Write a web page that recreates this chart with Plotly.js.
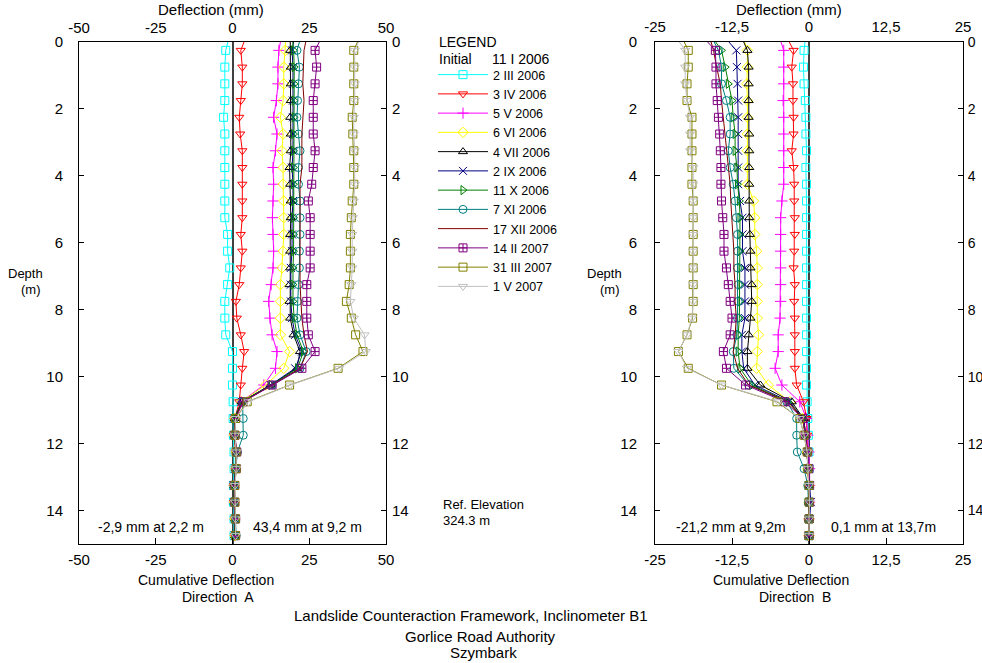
<!DOCTYPE html>
<html><head><meta charset="utf-8">
<script src="https://cdn.plot.ly/plotly-3.0.1.min.js"></script>
<style>html,body{margin:0;padding:0;background:#fff;}#chart{width:982px;height:663px;}</style>
</head><body><div id="chart"></div>
<script>
// Depth of readings (m)
const depth = [-0.25,0.25,0.75,1.25,1.75,2.25,2.75,3.25,3.75,4.25,4.75,5.25,5.75,6.25,6.75,7.25,7.75,8.25,8.75,9.25,9.75,10.25,10.75,11.25,11.75,12.25,12.75,13.25,13.75,14.25,14.75];

const dates = ["2 III 2006","3 IV 2006","5 V 2006","6 VI 2006","4 VII 2006","2 IX 2006","11 X 2006","7 XI 2006","17 XII 2006","14 II 2007","31 III 2007","1 V 2007"];

// Cumulative deflection, direction A (mm)
const a_2III2006  = [-0.8,-2.2,-2.5,-2.5,-2.5,-2.9,-2.5,-2.5,-2.5,-2.5,-2.5,-2.5,-1.6,-1.6,-0.9,-1.6,-2.5,-2.5,-2.2,0.0,0.0,0.0,0.2,0.2,0.3,0.5,0.5,0.3,0.3,0.5,0.5];
const a_3IV2006   = [4.8,2.7,3.2,3.2,2.7,2.2,2.5,3.2,3.2,3.2,3.2,3.2,2.7,3.2,2.7,2.2,1.1,1.4,2.7,3.8,3.2,2.7,2.2,0.8,0.5,1.0,1.0,0.5,0.5,0.8,0.8];
const a_5V2006    = [16.1,15.1,14.8,14.8,14.3,13.4,14.5,14.0,13.2,13.4,13.2,13.0,13.2,13.4,13.2,12.6,11.8,12.2,12.9,14.5,14.0,10.2,2.8,0.8,0.6,1.2,1.0,0.5,0.6,0.8,0.8];
const a_6VI2006   = [17.5,17.2,16.7,16.7,16.5,15.6,16.5,16.1,16.5,16.5,16.7,16.7,16.7,16.5,16.1,15.6,15.6,15.6,15.6,18.6,16.7,10.8,2.9,0.8,0.6,1.2,1.0,0.5,0.6,0.8,0.8];
const a_4VII2006  = [18.8,18.8,19.0,19.0,19.0,18.8,19.0,19.0,18.6,18.8,19.0,19.0,18.8,18.8,18.8,18.6,18.6,18.8,19.9,22.0,21.0,12.4,3.0,0.8,0.7,1.3,1.1,0.6,0.6,0.9,0.9];
const a_2IX2006   = [20.4,19.4,19.7,19.7,19.7,19.7,19.7,19.7,19.4,19.7,19.7,19.4,19.4,19.4,19.0,19.0,19.0,19.4,20.4,22.6,20.4,12.4,3.0,0.5,0.6,1.2,1.0,0.4,0.5,0.8,0.8];
const a_11X2006   = [19.4,19.9,20.1,20.1,20.1,20.1,19.9,19.9,19.9,19.9,19.9,19.9,19.9,19.9,19.7,19.7,19.7,20.1,21.0,23.1,21.2,12.6,3.0,0.6,0.6,1.2,1.0,0.5,0.5,0.8,0.8];
const a_7XI2006   = [22.6,21.0,21.8,21.5,21.2,21.0,21.5,22.0,21.5,21.5,22.0,22.0,22.0,21.8,21.8,21.5,21.2,21.0,22.0,24.0,22.0,12.9,3.3,3.5,3.5,1.6,1.2,0.6,0.7,1.0,1.2];
const a_17XII2006 = [24.4,23.3,23.1,22.9,23.3,22.9,22.6,22.6,22.6,22.0,22.0,22.0,22.0,22.0,22.0,22.0,22.3,22.6,23.3,24.4,22.0,12.9,3.3,0.8,0.7,1.3,1.1,0.6,0.6,0.9,0.9];
const a_14II2007  = [29.6,26.9,27.4,26.9,26.3,26.3,26.3,26.9,26.3,25.8,24.7,25.3,25.3,25.3,25.3,24.2,24.2,24.2,24.7,26.9,22.6,12.9,3.5,1.0,0.8,1.4,1.2,0.6,0.7,1.0,1.0];
const a_31III2007 = [41.9,39.5,39.5,39.5,39.5,39.0,39.2,39.5,39.5,39.5,39.0,38.7,38.4,38.4,38.4,38.0,37.1,38.7,40.1,42.5,34.4,18.6,4.8,1.0,0.8,1.2,1.2,0.8,0.8,1.0,1.0];
const a_1V2007    = [42.3,39.8,39.8,39.8,39.8,39.5,39.5,39.8,39.8,39.8,39.5,39.2,39.0,39.0,39.0,38.7,38.4,39.5,43.0,43.4,34.7,18.8,5.2,1.0,0.8,1.2,1.2,0.8,0.8,1.0,1.0];

// Cumulative deflection, direction B (mm)
const b_2III2006  = [-0.5,-0.8,-0.9,-0.8,-0.6,-0.5,-0.5,-0.4,-0.5,-0.4,-0.4,-0.4,-0.4,-0.4,-0.4,-0.4,-0.4,-0.4,-0.4,-0.4,-0.4,-0.4,-0.3,-0.2,-0.1,0.0,0.0,0.0,0.0,0.0,0.0];
const b_3IV2006   = [-3.9,-2.5,-2.8,-2.6,-2.6,-2.5,-2.5,-2.8,-2.5,-2.4,-2.4,-2.3,-2.3,-2.4,-2.5,-2.3,-2.4,-2.3,-2.3,-2.3,-2.3,-2.0,-0.9,-0.4,-0.3,-0.2,-0.1,0.0,0.0,0.0,0.0];
const b_5V2006    = [-5.0,-4.1,-4.1,-4.1,-4.2,-4.1,-4.1,-4.1,-4.1,-4.1,-4.4,-4.6,-4.6,-4.6,-4.6,-4.6,-4.6,-4.7,-5.0,-5.0,-5.5,-4.4,-1.5,-0.4,-0.2,0.0,0.1,0.1,0.1,0.0,0.0];
const b_6VI2006   = [-10.9,-10.0,-10.0,-10.1,-10.0,-10.0,-10.0,-10.0,-10.0,-10.0,-9.0,-8.8,-8.8,-8.5,-8.4,-8.4,-8.4,-8.4,-8.2,-8.4,-8.5,-6.6,-3.1,-1.0,-0.6,-0.3,-0.2,0.0,0.0,0.0,0.0];
const b_4VII2006  = [-11.2,-10.0,-9.8,-9.8,-9.8,-9.8,-9.7,-9.7,-9.7,-9.7,-9.7,-9.7,-9.6,-9.5,-9.5,-9.3,-9.3,-9.5,-9.8,-10.0,-10.0,-7.9,-2.8,-0.9,-0.5,-0.3,-0.1,0.0,0.0,0.0,0.0];
const b_2IX2006   = [-14.2,-11.8,-11.7,-11.6,-11.5,-11.5,-11.5,-11.5,-11.5,-11.5,-11.2,-10.8,-10.8,-10.8,-10.4,-10.4,-10.4,-10.4,-10.9,-10.9,-10.6,-8.8,-3.2,-0.9,-0.5,-0.3,-0.1,0.0,0.3,0.1,0.0];
const b_11X2006   = [-16.1,-14.2,-13.6,-13.1,-12.5,-12.3,-12.0,-12.0,-11.7,-11.6,-11.3,-11.2,-11.2,-11.2,-11.2,-11.2,-11.2,-11.3,-11.5,-11.5,-11.2,-9.3,-3.4,-1.0,-0.6,-0.3,-0.1,0.0,0.0,0.0,0.0];
const b_7XI2006   = [-16.1,-14.7,-14.2,-14.2,-13.4,-12.8,-12.8,-13.1,-12.8,-12.3,-12.0,-11.8,-11.6,-11.6,-11.6,-11.5,-11.5,-11.6,-11.7,-12.3,-12.2,-9.8,-3.6,-2.0,-2.0,-1.9,-0.8,-0.2,-0.1,0.0,0.0];
const b_17XII2006 = [-16.3,-15.5,-15.0,-14.4,-14.2,-13.9,-13.6,-13.4,-13.1,-12.8,-12.7,-12.5,-12.3,-12.2,-12.2,-12.0,-12.0,-11.8,-12.0,-12.3,-11.6,-9.8,-3.4,-1.0,-0.6,-0.3,-0.1,0.0,0.0,0.0,0.0];
const b_14II2007  = [-17.7,-15.2,-15.1,-15.1,-14.9,-14.7,-14.5,-14.4,-14.3,-14.3,-14.2,-14.0,-13.8,-13.8,-13.4,-13.1,-12.8,-12.5,-12.8,-13.9,-13.4,-10.3,-3.9,-1.0,-0.6,-0.2,0.0,0.1,0.1,0.0,0.0];
const b_31III2007 = [-20.9,-19.6,-19.6,-19.8,-19.8,-19.0,-19.0,-19.0,-19.0,-19.0,-18.8,-18.8,-18.8,-18.8,-18.8,-18.8,-18.8,-18.9,-19.8,-21.2,-19.6,-14.2,-5.2,-1.5,-0.8,-0.3,-0.2,0.0,0.0,0.0,0.0];
const b_1V2007    = [-22.0,-20.1,-20.1,-20.1,-19.8,-19.3,-19.3,-19.3,-18.8,-18.8,-18.8,-18.8,-18.8,-18.8,-18.8,-18.8,-18.8,-19.0,-19.8,-21.2,-19.8,-14.2,-5.0,-1.5,-0.8,-0.3,-0.2,0.0,0.1,0.0,0.0];

const seriesA = [a_2III2006,a_3IV2006,a_5V2006,a_6VI2006,a_4VII2006,a_2IX2006,a_11X2006,a_7XI2006,a_17XII2006,a_14II2007,a_31III2007,a_1V2007];
const seriesB = [b_2III2006,b_3IV2006,b_5V2006,b_6VI2006,b_4VII2006,b_2IX2006,b_11X2006,b_7XI2006,b_17XII2006,b_14II2007,b_31III2007,b_1V2007];

const depthTicks = [0,2,4,6,8,10,12,14];
const ticksA = [-50,-25,0,25,50];
const tickTextA = ["-50","-25","0","25","50"];
const ticksB = [-25,-12.5,0,12.5,25];
const tickTextB = ["-25","-12,5","0","12,5","25"];

// styles
const colors = ["#00FFFF","#FF0000","#FF00FF","#FFFF00","#000000","#000080","#008000","#008080","#800000","#800080","#808000","#C0C0C0"];
const symbols = ["square-open","triangle-down-open","cross-thin-open","diamond-open","triangle-up-open","x-thin-open","triangle-right-open","circle-open",null,"square-cross-open","square-open","triangle-down-open"];

const FONT = "Liberation Sans, Arial, sans-serif";
const W = 982, H = 663;
const px = x => x / W;
const py = y => 1 - y / H;

const traces = [];
function addSeries(series, xa, ya, legend) {
  dates.forEach((d, i) => {
    const mk = symbols[i] ? {symbol: symbols[i], size: 8, color: colors[i], line: {width: 1, color: colors[i]}} : {size: 0};
    const mode = symbols[i] ? "lines+markers" : "lines";
    traces.push({x: series[i], y: depth, xaxis: xa, yaxis: ya, type: "scatter", mode: mode, name: d,
      legendgroup: d, showlegend: legend, line: {color: colors[i], width: 1}, marker: mk,
      cliponaxis: false, hoverinfo: "skip"});
  });
}
addSeries(seriesA, "x", "y", true);
addSeries(seriesB, "x3", "y3", false);
// empty traces so that the mirrored (top / right) axes get drawn
traces.push({x: [], y: [], xaxis: "x2", yaxis: "y2", type: "scatter", mode: "markers", showlegend: false, hoverinfo: "skip"});
traces.push({x: [], y: [], xaxis: "x4", yaxis: "y4", type: "scatter", mode: "markers", showlegend: false, hoverinfo: "skip"});

const ydom = [py(544), py(42)];
const tf = {family: FONT, size: 15, color: "#000"};
function xAx(dom, range, tv, tt, extra) {
  return Object.assign({domain: dom, range: range, tickmode: "array", tickvals: tv, ticktext: tt,
    showgrid: false, showline: true, linecolor: "#000", linewidth: 1, ticks: "inside", ticklen: 6,
    tickcolor: "#000", tickfont: tf, zeroline: false, fixedrange: true}, extra);
}
function yAx(extra) {
  return Object.assign({domain: ydom, range: [15, 0], tickmode: "array", tickvals: depthTicks,
    showgrid: false, showline: true, linecolor: "#000", linewidth: 1, ticks: "inside", ticklen: 5,
    tickcolor: "#000", tickfont: tf, zeroline: false, fixedrange: true}, extra);
}

const layout = {
  width: W, height: H, margin: {l: 0, r: 0, t: 0, b: 0},
  paper_bgcolor: "#fff", plot_bgcolor: "rgba(0,0,0,0)",
  font: {family: FONT, size: 15, color: "#000"},
  showlegend: true,
  legend: {x: px(433), y: py(60), xanchor: "left", yanchor: "top", font: {family: FONT, size: 12.5, color: "#000"},
    bgcolor: "rgba(0,0,0,0)", borderwidth: 0, itemwidth: 50, tracegroupgap: 0},
  xaxis: xAx([px(79), px(386)], [-50, 50], ticksA, tickTextA, {anchor: "y", side: "bottom",
    zeroline: true, zerolinecolor: "#404040", zerolinewidth: 2, ticklabelstandoff: 2}),
  xaxis2: xAx([px(79), px(386)], [-50, 50], ticksA, tickTextA, {anchor: "y", side: "top", overlaying: "x", ticks: "", ticklabelstandoff: 2}),
  yaxis: yAx({anchor: "x", side: "left", ticklabelstandoff: 12}),
  yaxis2: yAx({anchor: "x", side: "right", overlaying: "y", ticklabelstandoff: 2}),
  xaxis3: xAx([px(655), px(963)], [-25, 25], ticksB, tickTextB, {anchor: "y3", side: "bottom",
    zeroline: true, zerolinecolor: "#404040", zerolinewidth: 2, ticklabelstandoff: 2}),
  xaxis4: xAx([px(655), px(963)], [-25, 25], ticksB, tickTextB, {anchor: "y3", side: "top", overlaying: "x3", ticks: "", ticklabelstandoff: 3}),
  yaxis3: yAx({anchor: "x3", side: "left", ticklabelstandoff: 14}),
  yaxis4: yAx({anchor: "x3", side: "right", overlaying: "y3", ticklabelstandoff: 1,
    tickfont: {family: FONT, size: 14, color: "#000"}}),
  annotations: []
};

function ann(text, x, y, opts) {
  layout.annotations.push(Object.assign({text: text, x: px(x), y: py(y), xref: "paper", yref: "paper",
    showarrow: false, font: {family: FONT, size: 14, color: "#000"}, xanchor: "center", yanchor: "middle"}, opts || {}));
}
const small = {family: FONT, size: 13, color: "#000"};
const big = {family: FONT, size: 15, color: "#000"};
ann("Deflection (mm)", 211, 10, {font: big});
ann("Deflection (mm)", 789, 10, {font: big});
ann("Cumulative Deflection", 206, 580);
ann("Direction  A", 218, 597);
ann("Cumulative Deflection", 781, 580);
ann("Direction  B", 795, 597);
ann("Depth", 25, 273, {font: small});
ann("(m)", 31, 289, {font: small});
ann("Depth", 604, 273, {font: small});
ann("(m)", 610, 289, {font: small});
ann("-2,9 mm at 2,2 m", 151, 527);
ann("43,4 mm at 9,2 m", 307, 527);
ann("-21,2 mm at 9,2m", 731, 527);
ann("0,1 mm at 13,7m", 883, 527);
ann("Ref. Elevation", 441, 504, {xanchor: "left", font: small});
ann("324.3 m", 441, 520, {xanchor: "left", font: small});
ann("LEGEND", 437, 42, {xanchor: "left"});
ann("Initial", 437, 59, {xanchor: "left"});
ann("11 I 2006", 490, 59, {xanchor: "left"});
ann("Landslide Counteraction Framework, Inclinometer B1", 471, 615, {font: big});
ann("Gorlice Road Authority", 480, 636, {font: big});
ann("Szymbark", 483, 652, {font: big});

Plotly.newPlot("chart", traces, layout, {staticPlot: true, displayModeBar: false});
</script>
</body></html>
